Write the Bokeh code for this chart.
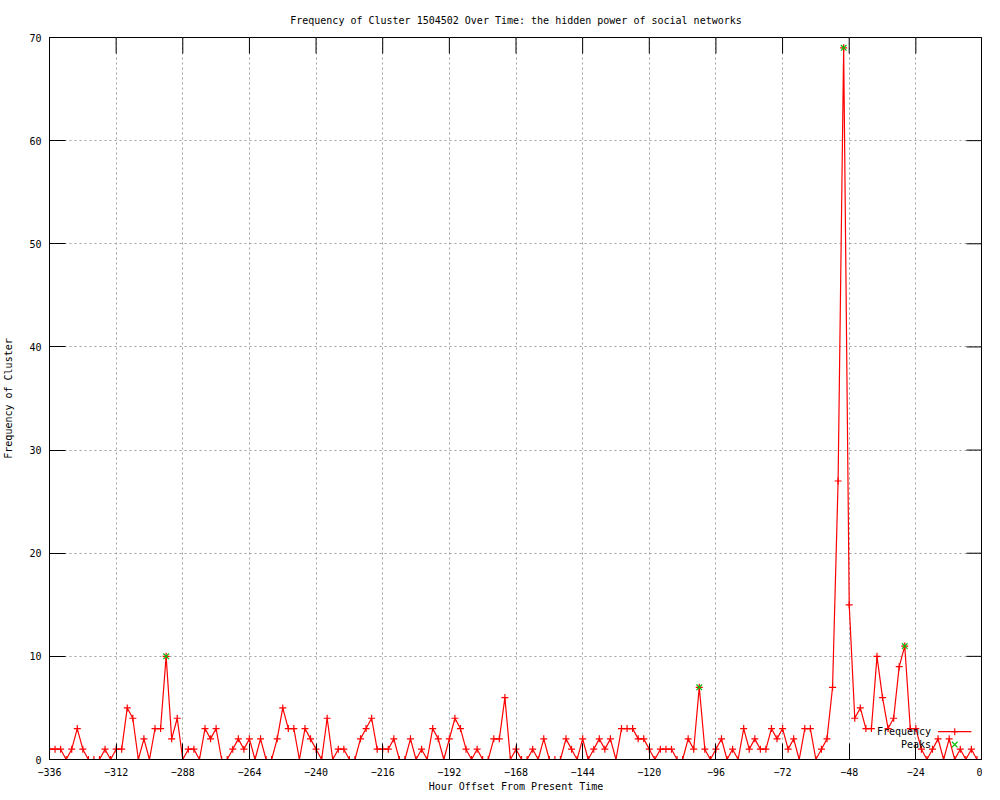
from bokeh.plotting import figure
from bokeh.models import FixedTicker, Range1d
from bokeh.core.properties import value
from bokeh.embed import file_html
from bokeh.resources import INLINE

# ---- data ----
hours = list(range(-336, 1, 2))
frequency = [
    1, 1, 1, 0, 1, 3, 1, 0, 0, 0, 1, 0,      # -336 .. -314
    1, 1, 5, 4, 0, 2, 0, 3, 3, 10, 2, 4,     # -312 .. -290
    0, 1, 1, 0, 3, 2, 3, 0, 0, 1, 2, 1,      # -288 .. -266
    2, 0, 2, 0, 0, 2, 5, 3, 3, 0, 3, 2,      # -264 .. -242
    1, 0, 4, 0, 1, 1, 0, 0, 2, 3, 4, 1,      # -240 .. -218
    1, 1, 2, 0, 0, 2, 0, 1, 0, 3, 2, 0,      # -216 .. -194
    2, 4, 3, 1, 0, 1, 0, 0, 2, 2, 6, 0,      # -192 .. -170
    1, 0, 0, 1, 0, 2, 0, 0, 0, 2, 1, 0,      # -168 .. -146
    2, 0, 1, 2, 1, 2, 0, 3, 3, 3, 2, 2,      # -144 .. -122
    1, 0, 1, 1, 1, 0, 0, 2, 1, 7, 1, 0,      # -120 .. -98
    1, 2, 0, 1, 0, 3, 1, 2, 1, 1, 3, 2,      # -96 .. -74
    3, 1, 2, 0, 3, 3, 0, 1, 2, 7, 27, 69,    # -72 .. -50
    15, 4, 5, 3, 3, 10, 6, 3, 4, 9, 11, 3,   # -48 .. -26
    3, 1, 0, 1, 2, 0, 2, 0, 1, 0, 1, 0,      # -24 .. -2
    0,                                       # 0
]
peak_hours = [-294, -102, -50, -28]
peak_values = [frequency[hours.index(h)] for h in peak_hours]

x_ticks = list(range(-336, 1, 24))
y_ticks = list(range(0, 71, 10))

title_text = "Frequency of Cluster 1504502 Over Time: the hidden power of social networks"
x_label = "Hour Offset From Present Time"
y_label = "Frequency of Cluster"
series_names = ["Frequency", "Peaks"]

FONT = "DejaVu Sans Mono"
FS = "10px"
RED = "#ff0000"
GREEN = "#00c000"
GRID = "#a0a0a0"

X0, X1, Y0, Y1 = -336, 0, 0, 70
FW, FH = 933, 722
TICK = 16  # px

p = figure(frame_width=FW, frame_height=FH,
           x_range=Range1d(X0, X1), y_range=Range1d(Y0, Y1),
           output_backend="svg", toolbar_location=None,
           min_border_left=0, min_border_right=0,
           min_border_top=0, min_border_bottom=0,
           title=title_text)

p.title.align = "center"
p.title.text_font = FONT
p.title.text_font_size = FS
p.title.text_font_style = "normal"
p.title.text_color = "black"
p.title.standoff = 24

p.outline_line_color = "black"
p.outline_line_width = 1
p.background_fill_color = "white"
p.border_fill_color = "white"

for ax, ticks in ((p.xaxis[0], x_ticks), (p.yaxis[0], y_ticks)):
    ax.ticker = FixedTicker(ticks=ticks)
    ax.major_tick_in = TICK
    ax.major_tick_out = 0
    ax.minor_tick_in = 0
    ax.minor_tick_out = 0
    ax.major_tick_line_color = "black"
    ax.axis_line_color = "black"
    ax.major_label_text_font = FONT
    ax.major_label_text_font_size = FS
    ax.major_label_text_color = "black"
    ax.axis_label_text_font = FONT
    ax.axis_label_text_font_size = FS
    ax.axis_label_text_font_style = "normal"
    ax.axis_label_text_color = "black"

p.xaxis[0].axis_label = x_label
p.xaxis[0].major_label_standoff = 8
p.xaxis[0].axis_label_standoff = 2
p.yaxis[0].axis_label = y_label
p.yaxis[0].major_label_standoff = 8
p.yaxis[0].axis_label_standoff = 12

p.xgrid.ticker = FixedTicker(ticks=x_ticks)
p.ygrid.ticker = FixedTicker(ticks=y_ticks)
for g in (p.xgrid[0], p.ygrid[0]):
    g.grid_line_color = GRID
    g.grid_line_dash = "2 3"
    g.grid_line_width = 1

# mirrored inward ticks on top and right borders
dy_tick = TICK * (Y1 - Y0) / FH
dx_tick = TICK * (X1 - X0) / FW
p.segment(x0=x_ticks, y0=[Y1] * len(x_ticks), x1=x_ticks, y1=[Y1 - dy_tick] * len(x_ticks),
          line_color="black", line_width=1)
p.segment(x0=[X1] * len(y_ticks), y0=y_ticks, x1=[X1 - dx_tick] * len(y_ticks), y1=y_ticks,
          line_color="black", line_width=1)

# data
p.line(hours, frequency, line_color=RED, line_width=1.2)
p.scatter(hours, frequency, marker="cross", size=7, line_color=RED, line_width=1.2)
p.scatter(peak_hours, peak_values, marker="x", size=8, line_color=GREEN, line_width=1.2)

# gnuplot-style key (text then sample), bottom right
kx_text = -18.5
kx0, kx1, kxc = -16.0, -4.0, -10.0
ky1, ky2 = 2.7, 1.45
p.text(x=[kx_text, kx_text], y=[ky1, ky2], text=series_names,
       text_align="right", text_baseline="middle",
       text_font=value(FONT), text_font_size=FS, text_color="black")
p.line([kx0, kx1], [ky1, ky1], line_color=RED, line_width=1.2)
p.scatter([kxc], [ky1], marker="cross", size=7, line_color=RED, line_width=1.2)
p.scatter([kxc], [ky2], marker="x", size=8, line_color=GREEN, line_width=1.2)

open("out.html", "w").write(file_html(p, INLINE))
